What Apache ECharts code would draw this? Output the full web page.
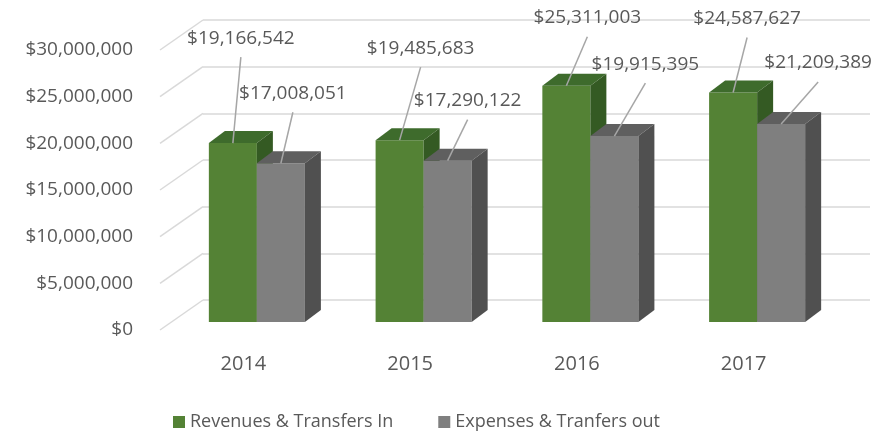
<!DOCTYPE html>
<html>
<head>
<meta charset="utf-8">
<script src="https://cdn.jsdelivr.net/npm/echarts@6/dist/echarts.min.js"></script>
<style>
  html, body { margin: 0; padding: 0; background: #fff; }
  #chart { width: 884px; height: 434px; }
</style>
</head>
<body>
<div id="chart"></div>
<script>
const years = ["2014", "2015", "2016", "2017"];
const revenues = [19166542, 19485683, 25311003, 24587627];
const expenses = [17008051, 17290122, 19915395, 21209389];
const yTicks = [0, 5000000, 10000000, 15000000, 20000000, 25000000, 30000000];

// where each value label sits, relative to the top of its bar (px)
const revLabelNudge = [[8, -105], [21, -92], [21, -68], [14, -74]];
const expLabelNudge = [[12, -70], [20, -60], [31, -72], [37, -61]];

const FONT = "Open Sans";
const TEXT = "#595959";
const DEPTH = [16, -12];       // bar depth offset
const WALL = [-43, 30];        // side wall depth (back -> front)

const money = (v) => "$" + Math.round(v).toLocaleString("en-US");

const chart = echarts.init(document.getElementById("chart"));

function barRenderer(slot, colors, nudges) {
  return function (params, api) {
    const idx = api.value(0);
    const val = api.value(1);
    const base = api.coord([idx, 0]);
    const top = api.coord([idx, val]);
    const band = api.size([1, 0])[0];
    const w = band * 0.288;
    const x0 = base[0] - w + slot * w;
    const y0 = top[1];
    const y1 = base[1];
    const [dx, dy] = DEPTH;
    const ax = x0 + w / 2;
    const lx = ax + nudges[idx][0];
    const ly = y0 + nudges[idx][1];
    return {
      type: "group",
      children: [
        { type: "rect", shape: { x: x0, y: y0, width: w, height: y1 - y0 },
          style: { fill: colors[0] } },
        { type: "polygon", shape: { points: [[x0, y0], [x0 + w, y0], [x0 + w + dx, y0 + dy], [x0 + dx, y0 + dy]] },
          style: { fill: colors[1] } },
        { type: "polygon", shape: { points: [[x0 + w, y0], [x0 + w + dx, y0 + dy], [x0 + w + dx, y1 + dy], [x0 + w, y1]] },
          style: { fill: colors[2] } },
        { type: "line", shape: { x1: ax, y1: y0, x2: lx, y2: ly + 19 },
          style: { stroke: "#a6a6a6", lineWidth: 1.5 } },
        { type: "text", style: { text: money(val), x: lx, y: ly, align: "center", verticalAlign: "middle",
          fontFamily: FONT, fontSize: 19, fill: TEXT } },
      ],
    };
  };
}

const catAxis = (gi, show) => ({
  type: "category", gridIndex: gi, data: years,
  axisLine: { show: false }, axisTick: { show: false },
  axisLabel: show ? { show: true, margin: 24, fontFamily: FONT, fontSize: 20, color: TEXT } : { show: false },
});
const valAxis = (gi, opts) => Object.assign({
  type: "value", gridIndex: gi, min: 0, max: 30000000, interval: 5000000,
  axisLine: { show: false }, axisTick: { show: false },
  axisLabel: { show: false }, splitLine: { show: false },
}, opts);

const option = {
  backgroundColor: "#fff",
  animation: false,
  grid: [
    { left: 203, top: 20, width: 667, height: 280 },   // back wall
    { left: 160, top: 50, width: 667, height: 280 },   // front edge (labels)
    { left: 173.5, top: 42, width: 667, height: 280 }, // bar front plane
  ],
  xAxis: [catAxis(0, false), catAxis(1, true), catAxis(2, false)],
  yAxis: [
    valAxis(0, { splitLine: { show: true, lineStyle: { color: "#d9d9d9", width: 1.5 } } }),
    valAxis(1, { axisLabel: { show: true, margin: 27, formatter: money, fontFamily: FONT, fontSize: 19, color: TEXT } }),
    valAxis(2, {}),
  ],
  legend: {
    left: 168, top: 408, icon: "rect", itemWidth: 12, itemHeight: 12, itemGap: 45,
    textStyle: { fontFamily: FONT, fontSize: 18, color: TEXT },
    data: ["Revenues & Transfers In", "Expenses & Tranfers out"],
  },
  series: [
    {
      type: "custom", name: "wall", xAxisIndex: 0, yAxisIndex: 0, silent: true, z: 1,
      data: yTicks.map((v) => [0, v]),
      renderItem: (params, api) => {
        const y = api.coord([0, api.value(1)])[1];
        const x = params.coordSys.x;
        return { type: "line", shape: { x1: x, y1: y, x2: x + WALL[0], y2: y + WALL[1] },
          style: { stroke: "#d9d9d9", lineWidth: 1.5 } };
      },
    },
    {
      type: "custom", name: "Revenues & Transfers In", xAxisIndex: 2, yAxisIndex: 2, z: 3,
      itemStyle: { color: "#548235" },
      data: revenues.map((v, i) => [i, v]),
      renderItem: barRenderer(0, ["#548235", "#3e6b2c", "#345a23"], revLabelNudge),
    },
    {
      type: "custom", name: "Expenses & Tranfers out", xAxisIndex: 2, yAxisIndex: 2, z: 4,
      itemStyle: { color: "#7f7f7f" },
      data: expenses.map((v, i) => [i, v]),
      renderItem: barRenderer(1, ["#7f7f7f", "#5f5f5f", "#505050"], expLabelNudge),
    },
  ],
};

chart.setOption(option);
</script>
</body>
</html>
